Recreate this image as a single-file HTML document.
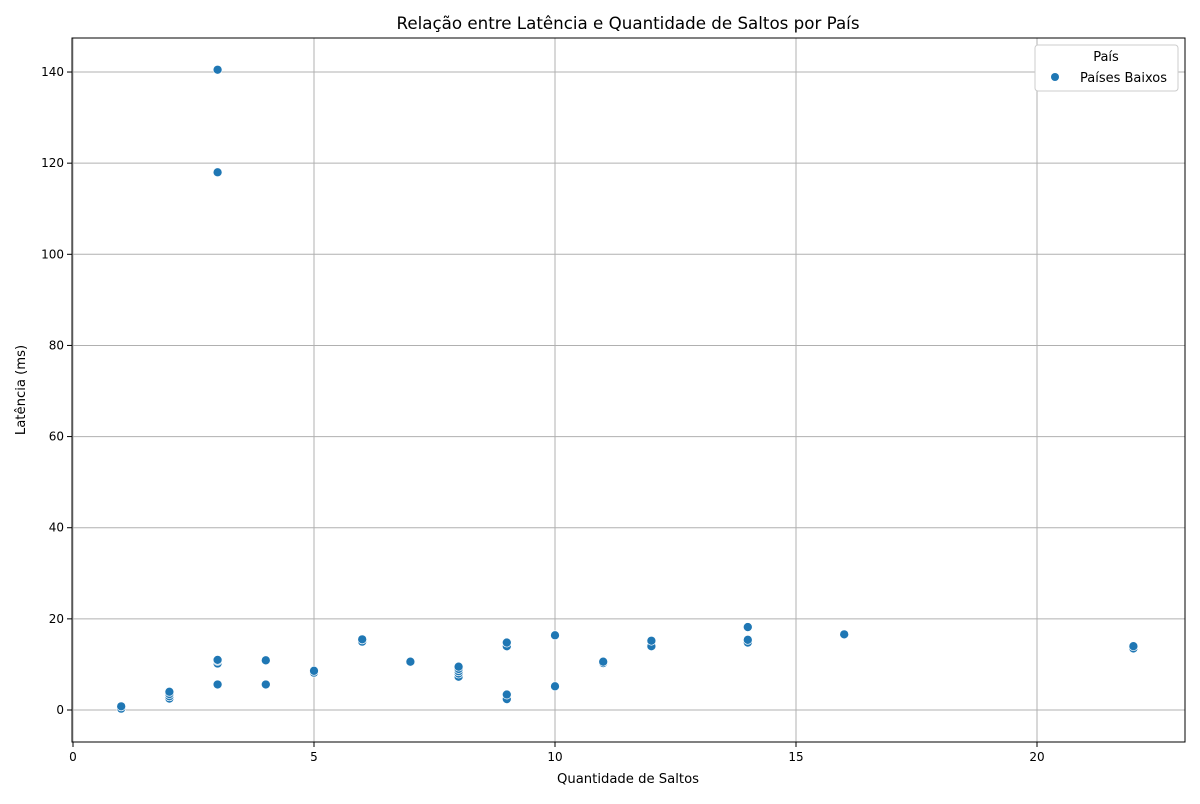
<!DOCTYPE html>
<html><head><meta charset="utf-8"><style>
body{margin:0;background:#fff;font-family:"DejaVu Sans","Liberation Sans",sans-serif;}
</style></head><body>
<svg id="chart" width="1200" height="800" xmlns="http://www.w3.org/2000/svg" font-family="DejaVu Sans, Liberation Sans, sans-serif">
<text x="628" y="29" text-anchor="middle" font-size="16.7">Relação entre Latência e Quantidade de Saltos por País</text>
<text x="628" y="783" text-anchor="middle" font-size="13.2">Quantidade de Saltos</text>
<text transform="translate(25,390) rotate(-90)" text-anchor="middle" font-size="13.2">Latência (ms)</text>
<g id="grid"></g><g id="pts"></g><g id="axes"></g>
<g>
<rect x="1035" y="45" width="143" height="46" fill="#fff" stroke="#ccc" rx="3"/>
<text x="1106" y="61" text-anchor="middle" font-size="13">País</text>
<circle cx="1055" cy="77" r="4" fill="#1f77b4"/>
<text x="1080" y="82" font-size="13">Países Baixos</text>
</g>
</svg>
<script>
const hops=[1,1,2,2,2,2,3,3,3,3,3,3,4,4,5,5,6,6,7,8,8,8,8,8,9,9,9,9,10,10,11,11,12,12,14,14,14,16,22,22];
const latency=[0.3,0.8,2.5,3.0,3.5,4.0,5.6,10.2,10.8,11.0,118,140.5,5.6,10.9,8.2,8.6,15.0,15.5,10.6,7.3,8.0,8.5,9.0,9.5,2.4,3.4,14.0,14.8,5.2,16.4,10.3,10.6,14.0,15.2,14.8,15.4,18.2,16.6,13.5,14.0];
const xTicks=[0,5,10,15,20];
const yTicks=[0,20,40,60,80,100,120,140];
const L=72,R=1185,T=38,B=742;
const X=v=>73+v*48.2, Y=v=>710-v*4.557;
const ns="http://www.w3.org/2000/svg";
function mk(p,t,a){const e=document.createElementNS(ns,t);for(const k in a)e.setAttribute(k,a[k]);p.appendChild(e);return e;}
const g=document.getElementById('grid'),ax=document.getElementById('axes'),pts=document.getElementById('pts');
xTicks.forEach(t=>{const x=X(t);
const l=mk(g,'line',{x1:x,x2:x,y1:T,y2:B,stroke:'#b0b0b0','stroke-width':1});

mk(ax,'line',{x1:x,x2:x,y1:B,y2:B+5,stroke:'#000'});
const tx=mk(ax,'text',{x:x,y:B+19,'text-anchor':'middle','font-size':12});tx.textContent=t;
});
yTicks.forEach(t=>{const y=Y(t);
const l=mk(g,'line',{x1:L,x2:R,y1:y,y2:y,stroke:'#b0b0b0','stroke-width':1});

mk(ax,'line',{x1:L-5,x2:L,y1:y,y2:y,stroke:'#000'});
const tx=mk(ax,'text',{x:L-8,y:y+4,'text-anchor':'end','font-size':12});tx.textContent=t;
});
const fr=mk(ax,'rect',{x:L,y:T,width:R-L,height:B-T,fill:'none',stroke:'#000','stroke-width':1});

hops.forEach((h,i)=>{const c=mk(pts,'circle',{cx:X(h),cy:Y(latency[i]),r:4.5,fill:'#1f77b4',stroke:'#fff','stroke-width':0.7});
});
</script>
</body></html>
